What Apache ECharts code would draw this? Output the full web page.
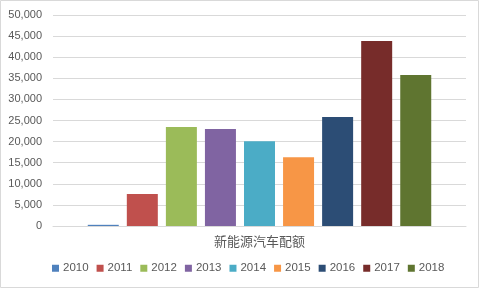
<!DOCTYPE html>
<html><head><meta charset="utf-8">
<script src="https://cdn.jsdelivr.net/npm/echarts@6/dist/echarts.min.js"></script>
<style>html,body{margin:0;padding:0;background:#fff}#c{width:480px;height:289px}</style>
</head><body><div id="c"></div>
<script>
const categories = ['新能源汽车配额'];
const years = ['2010','2011','2012','2013','2014','2015','2016','2017','2018'];
const values = [280, 7600, 23450, 23000, 20100, 16300, 25800, 43850, 35800];
const colors = ['#4F81BD','#C0504D','#9BBB59','#8064A2','#4BACC6','#F79646','#2C4D75','#772C2A','#5F7530'];
const yTicks = { min: 0, max: 50000, interval: 5000 };

const chart = echarts.init(document.getElementById('c'));
chart.setOption({
  animation: false,
  textStyle: { fontFamily: 'Liberation Sans, Noto Sans CJK SC, sans-serif' },
  graphic: [{ type: 'rect', shape: { x: 0.5, y: 0.5, width: 478, height: 287 }, style: { fill: 'none', stroke: '#d9d9d9', lineWidth: 1 }, silent: true }],
  grid: { left: 53, right: 14, top: 15, bottom: 63 },
  xAxis: {
    type: 'category', data: categories,
    axisLine: { lineStyle: { color: '#d9d9d9' } },
    axisTick: { show: false },
    axisLabel: { color: '#595959', fontSize: 13, margin: 10 }
  },
  yAxis: {
    type: 'value', min: yTicks.min, max: yTicks.max, interval: yTicks.interval,
    axisLine: { show: false }, axisTick: { show: false },
    splitLine: { lineStyle: { color: '#d9d9d9' } },
    axisLabel: { color: '#595959', fontSize: 11, margin: 11, formatter: v => v.toLocaleString('en-US') }
  },
  legend: {
    bottom: 10, left: 47, itemWidth: 7, itemHeight: 7, itemGap: 8,
    icon: 'rect', textStyle: { color: '#595959', fontSize: 11.5, padding: [0,0,0,-1] },
    data: years
  },
  series: years.map((y, i) => ({
    name: y, type: 'bar', data: [values[i]], barWidth: 31, barGap: '26%',
    itemStyle: { color: colors[i] }
  }))
});
</script></body></html>
